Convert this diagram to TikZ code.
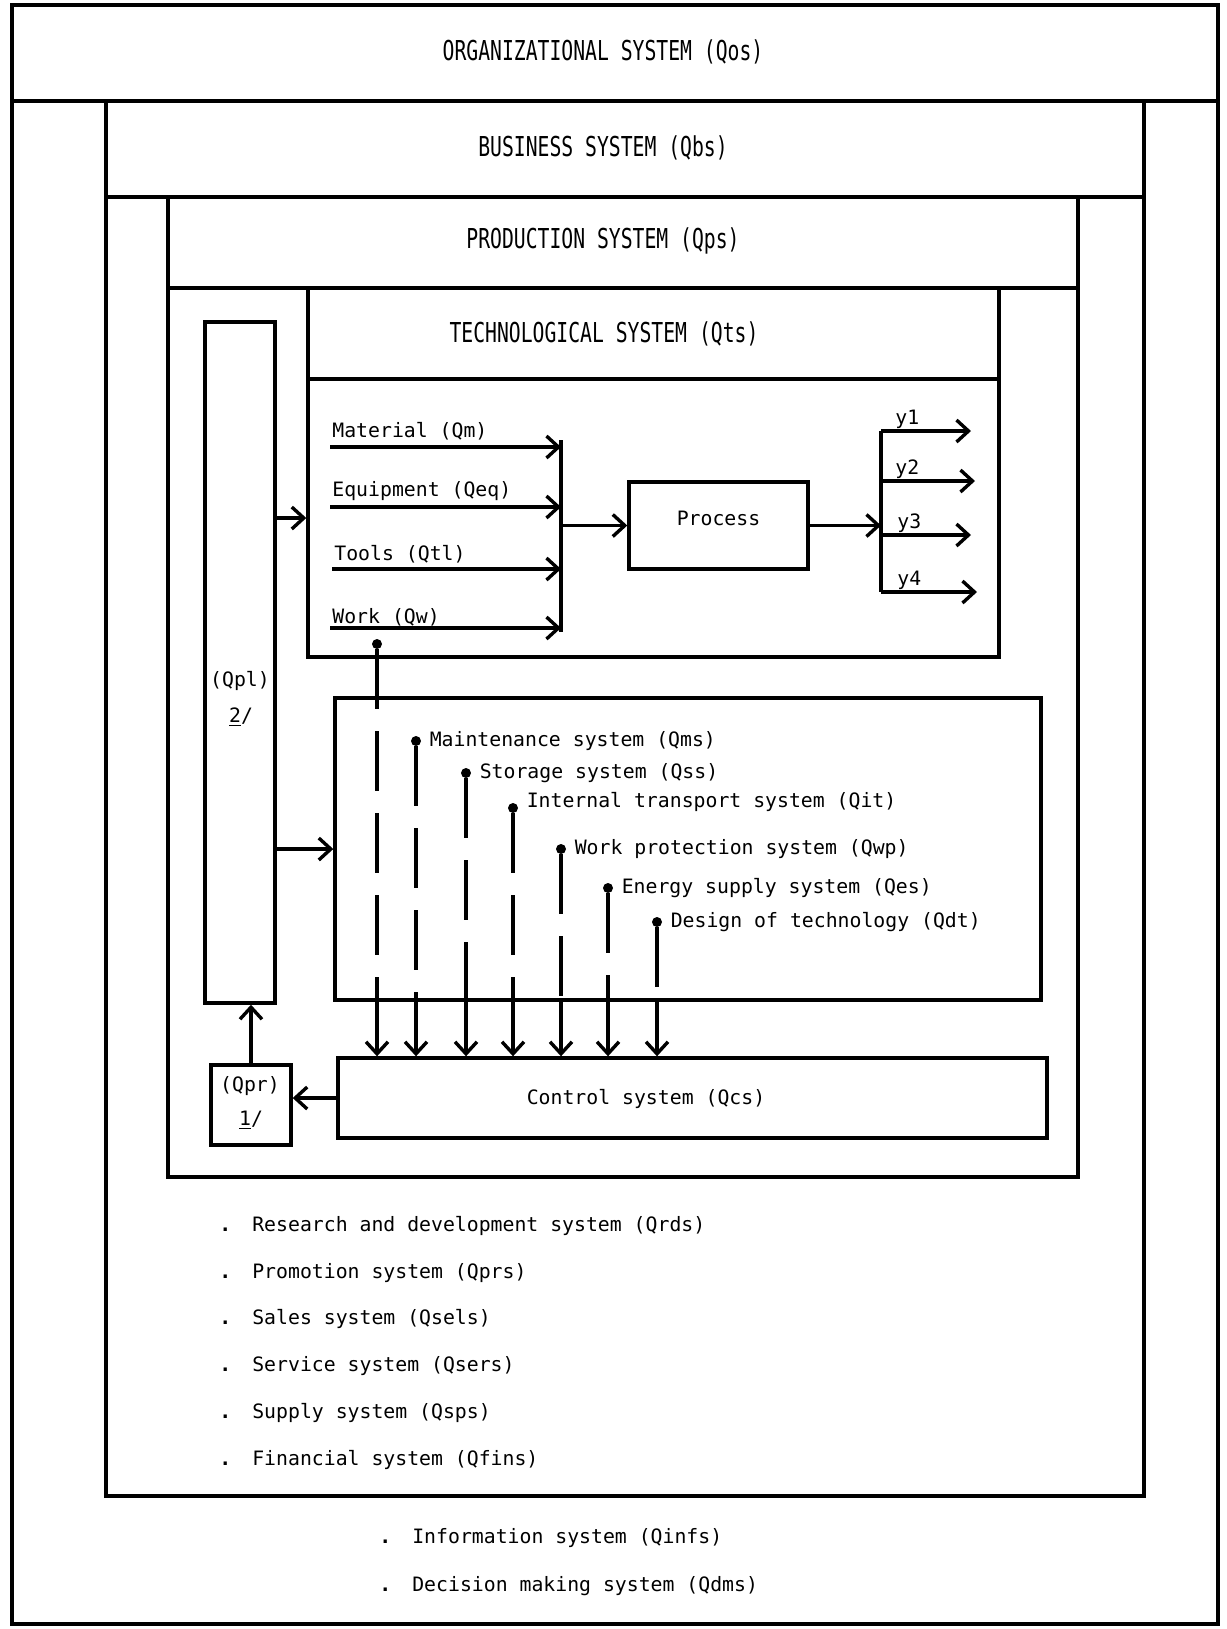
\documentclass[tikz,border=0pt]{standalone}
\usepackage{fontspec}
\setmonofont{DejaVu Sans Mono}
\newfontfamily\titlefont[FakeStretch=0.72]{DejaVu Sans Mono}
\usepackage{tikz}
\usetikzlibrary{arrows.meta, positioning, fit}
\tikzstyle{frame} = [draw, line width=1.7pt, inner sep=0pt]
\tikzstyle{box} = [draw, line width=1.7pt, inner sep=0pt,
  font=\ttfamily\fontsize{9.9}{12}\selectfont]
\tikzstyle{title} = [font=\titlefont\fontsize{13.7}{16}\selectfont]
\tikzstyle{txt} = [inner sep=1pt, font=\ttfamily\fontsize{9.9}{12}\selectfont]
\tikzstyle{arrow} = [line width=1.7pt, -{Straight Barb[length=6pt, width=11pt]}]
\tikzstyle{wire} = [line width=1.7pt]
\tikzstyle{subline} = [line width=1.7pt, dash pattern=on 30pt off 11pt]
\tikzstyle{dot} = [circle, fill, inner sep=0pt, minimum size=5pt]

\begin{document}
\begin{tikzpicture}[x=0.5pt, y=-0.5pt]
    \useasboundingbox (0,0) rectangle (1227,1629);
    % nested frames
    \node[frame, fit={(12,5) (1218,101)}] (orghead) {};
    \node[frame, fit={(12,101) (1218,1624)}] (org) {};
    \node[frame, fit={(106,101) (1144,197)}] (bushead) {};
    \node[frame, fit={(106,197) (1144,1496)}] (bus) {};
    \node[frame, fit={(168,197) (1078,288)}] (prodhead) {};
    \node[frame, fit={(168,288) (1078,1177)}] (prod) {};
    \node[frame, fit={(308,288) (999,379)}] (tshead) {};
    \node[frame, fit={(308,379) (999,657)}] (ts) {};
    \node[title] (orgtitle) at (603,52) {ORGANIZATIONAL SYSTEM (Qos)};
    \node[title] (bustitle) at (603,148) {BUSINESS SYSTEM (Qbs)};
    \node[title] (prodtitle) at (603,241) {PRODUCTION SYSTEM (Qps)};
    \node[title] (tstitle) at (604,334) {TECHNOLOGICAL SYSTEM (Qts)};

    % planning and control
    \node[frame, fit={(205,322) (275,1003)}] (qpl) {};
    \node[txt] (qpltext) at (240,681) {(Qpl)};
    \node[txt] (qplnum) at (241,717) {\underline{2}/};
    \node[frame, fit={(335,698) (1041,1000)}] (maint) {};
    \node[frame, fit={(338,1058) (1047,1138)}] (cs) {};
    \node[txt] (cstext) at (646,1099) {Control system (Qcs)};
    \node[frame, fit={(211,1065) (291,1145)}] (qpr) {};
    \node[txt] (qprtext) at (250,1086) {(Qpr)};
    \node[txt] (qprnum) at (251,1120) {\underline{1}/};
    \draw[arrow, yshift=-10pt] (qpl.east |- ts.west) -- (ts.west);
    \draw[arrow] (qpl.east |- maint.west) -- (maint.west);
    \draw[arrow] (cs.west) -- (cs.west -| qpr.east);
    \draw[arrow] (qpr.north) -- (qpr.north |- qpl.south);

    % process
    \node[box, fit={(629,482) (808,569)}] (proc) {Process};
    \coordinate (bustop) at (561,440);
    \coordinate (busbot) at (561,632);
    \coordinate (mat) at (330,447);
    \coordinate (eq) at (330,507);
    \coordinate (tool) at (332,569);
    \coordinate (work) at (330,628);
    \draw[wire] (bustop) -- (busbot);
    \draw[arrow] (mat) -- (mat -| bustop);
    \draw[arrow] (eq) -- (eq -| bustop);
    \draw[arrow] (tool) -- (tool -| bustop);
    \draw[arrow] (work) -- (work -| bustop);
    \node[txt, anchor=south west, yshift=2pt] (matlabel) at (mat) {Material (Qm)};
    \node[txt, anchor=south west, yshift=2pt] (eqlabel) at (eq) {Equipment (Qeq)};
    \node[txt, anchor=south west, yshift=2pt] (toollabel) at (tool) {Tools (Qtl)};
    \node[txt, anchor=south west] (worklabel) at (work) {Work (Qw)};
    \draw[arrow] (bustop |- proc.west) -- (proc.west);

    \coordinate (outtop) at (881,431);
    \coordinate (outbot) at (881,592);
    \coordinate (y1) at (971,431);
    \coordinate (y2) at (975,481);
    \coordinate (y3) at (971,535);
    \coordinate (y4) at (977,592);
    \draw[wire] (outtop) -- (outbot);
    \draw[arrow] (proc.east) -- (outtop |- proc.east);
    \draw[arrow] (outtop |- y1) -- (y1);
    \draw[arrow] (outtop |- y2) -- (y2);
    \draw[arrow] (outtop |- y3) -- (y3);
    \draw[arrow] (outtop |- y4) -- (y4);
    \node[txt, anchor=south west, xshift=6pt] (y1label) at (outtop |- y1) {y1};
    \node[txt, anchor=south west, xshift=6pt] (y2label) at (outtop |- y2) {y2};
    \node[txt, anchor=south west, xshift=7pt] (y3label) at (outtop |- y3) {y3};
    \node[txt, anchor=south west, xshift=7pt] (y4label) at (outtop |- y4) {y4};

    % subsystems
    \node[dot] (d0) at (377,644) {};
    \node[dot] (d1) at (416,741) {};
    \node[dot] (d2) at (466,773) {};
    \node[dot] (d3) at (513,808) {};
    \node[dot] (d4) at (561,849) {};
    \node[dot] (d5) at (608,888) {};
    \node[dot] (d6) at (657,922) {};
    \node[txt, right=3pt of d1] (ms) {Maintenance system (Qms)};
    \node[txt, right=3pt of d2] (ss) {Storage system (Qss)};
    \node[txt, right=3pt of d3, yshift=3pt] (it) {Internal transport system (Qit)};
    \node[txt, right=3pt of d4] (wp) {Work protection system (Qwp)};
    \node[txt, right=3pt of d5] (es) {Energy supply system (Qes)};
    \node[txt, right=3pt of d6] (dt) {Design of technology (Qdt)};
    \draw[subline] (d0) -- (d0 |- maint.south);
    \draw[subline] (d1) -- (d1 |- maint.south);
    \draw[subline] (d2) -- (d2 |- maint.south);
    \draw[subline] (d3) -- (d3 |- maint.south);
    \draw[subline] (d4) -- (d4 |- maint.south);
    \draw[subline] (d5) -- (d5 |- maint.south);
    \draw[subline] (d6) -- (d6 |- maint.south);
    \draw[arrow] (d0 |- maint.south) -- (d0 |- cs.north);
    \draw[arrow] (d1 |- maint.south) -- (d1 |- cs.north);
    \draw[arrow] (d2 |- maint.south) -- (d2 |- cs.north);
    \draw[arrow] (d3 |- maint.south) -- (d3 |- cs.north);
    \draw[arrow] (d4 |- maint.south) -- (d4 |- cs.north);
    \draw[arrow] (d5 |- maint.south) -- (d5 |- cs.north);
    \draw[arrow] (d6 |- maint.south) -- (d6 |- cs.north);

    % business and organizational lists
    \node[txt, anchor=west] (rds) at (217,1226) {\textbf{.}\hspace{10.5pt}Research and development system (Qrds)};
    \node[txt, anchor=west] (prs) at (217,1273) {\textbf{.}\hspace{10.5pt}Promotion system (Qprs)};
    \node[txt, anchor=west] (sels) at (217,1319) {\textbf{.}\hspace{10.5pt}Sales system (Qsels)};
    \node[txt, anchor=west] (sers) at (217,1366) {\textbf{.}\hspace{10.5pt}Service system (Qsers)};
    \node[txt, anchor=west] (sps) at (217,1413) {\textbf{.}\hspace{10.5pt}Supply system (Qsps)};
    \node[txt, anchor=west] (fins) at (217,1460) {\textbf{.}\hspace{10.5pt}Financial system (Qfins)};
    \node[txt, anchor=west] (infs) at (377,1538) {\textbf{.}\hspace{10.5pt}Information system (Qinfs)};
    \node[txt, anchor=west] (dms) at (377,1586) {\textbf{.}\hspace{10.5pt}Decision making system (Qdms)};
\end{tikzpicture}
\end{document}
